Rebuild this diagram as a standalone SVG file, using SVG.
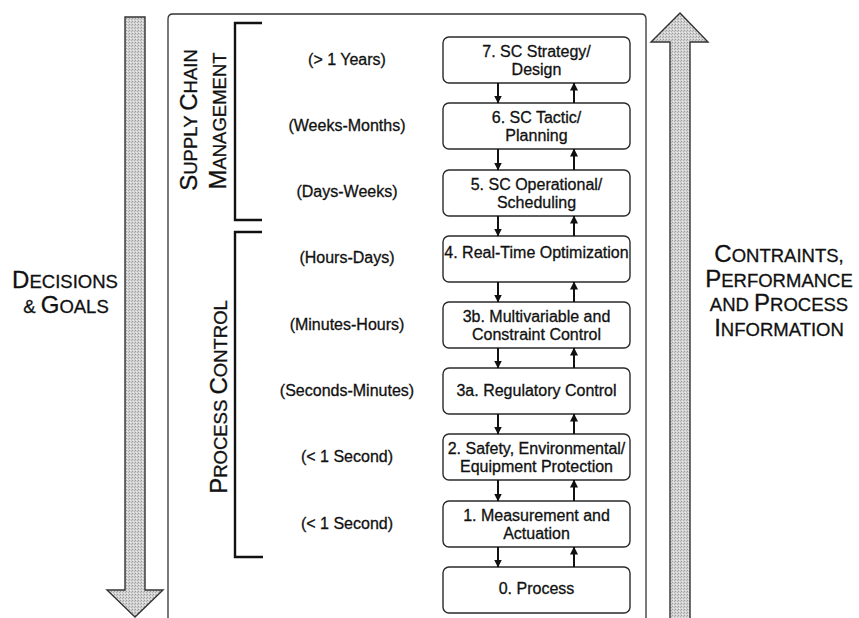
<svg xmlns="http://www.w3.org/2000/svg" width="859" height="618" viewBox="0 0 859 618">
  <style>
    .node rect { fill: #ffffff; stroke: #2a2a2a; stroke-width: 1.4; }
    .node text, .time { font-family: "Liberation Sans", Arial, sans-serif; font-size: 16px; fill: #111; stroke: #111; stroke-width: 0.3; text-anchor: middle; }
    .cap { font-family: "Liberation Sans", Arial, sans-serif; font-size: 24px; fill: #111; stroke: #111; stroke-width: 0.3; text-anchor: middle; }
    .sc { font-size: 18.5px; }
    .bracket { fill: none; stroke: #111; stroke-width: 2.4; }
    .frame { fill: none; stroke: #333; stroke-width: 1.3; }
    .flow { fill: url(#stipple); stroke: #333; stroke-width: 1.4; stroke-linejoin: miter; }
    .link { stroke: #111; stroke-width: 2; fill: none; }
  </style>
  <defs>
    <pattern id="stipple" width="3" height="3" patternUnits="userSpaceOnUse">
      <rect width="3" height="3" fill="#d2d2d2"/>
      <rect x="0" y="0" width="1" height="1" fill="#9a9a9a"/>
      <rect x="2" y="1" width="1" height="1" fill="#b0b0b0"/>
      <rect x="1" y="2" width="1" height="1" fill="#ececec"/>
    </pattern>
    <marker id="head" markerUnits="userSpaceOnUse" markerWidth="8" markerHeight="9" refX="7.5" refY="4" orient="auto">
      <path d="M0,0 L8,4 L0,8 Z" fill="#111"/>
    </marker>
  </defs>

  <!-- broad flow arrows -->
  <path id="decisions-arrow" class="flow" d="M125,17 H145 V590 H163 L135,617 L107,590 H125 Z"/>
  <path id="feedback-arrow" class="flow" d="M670,620 V42 H651 L680,13 L708,42 H690 V620"/>

  <!-- hierarchy frame -->
  <path class="frame" d="M168,618 V19 Q168,14 173,14 H641 Q646,14 646,19 V618"/>

  <!-- brackets -->
  <path class="bracket" d="M262,23 H235 V220 H262"/>
  <path class="bracket" d="M262,232 H235 V557 H263"/>

  <!-- side labels -->
  <text class="cap" transform="translate(197,120) rotate(-90)">S<tspan class="sc">UPPLY </tspan>C<tspan class="sc">HAIN</tspan></text>
  <text class="cap" transform="translate(226,121) rotate(-90)">M<tspan class="sc">ANAGEMENT</tspan></text>
  <text class="cap" transform="translate(227,397) rotate(-90)">P<tspan class="sc">ROCESS </tspan>C<tspan class="sc">ONTROL</tspan></text>

  <g id="label-decisions">
    <text class="cap" x="65" y="288">D<tspan class="sc">ECISIONS</tspan></text>
    <text class="cap" x="66" y="313"><tspan class="sc">&amp; </tspan>G<tspan class="sc">OALS</tspan></text>
  </g>
  <g id="label-information">
    <text class="cap" x="779" y="262">C<tspan class="sc">ONTRAINTS,</tspan></text>
    <text class="cap" x="779" y="287">P<tspan class="sc">ERFORMANCE</tspan></text>
    <text class="cap" x="779" y="311"><tspan class="sc">AND </tspan>P<tspan class="sc">ROCESS</tspan></text>
    <text class="cap" x="779" y="336">I<tspan class="sc">NFORMATION</tspan></text>
  </g>

  <!-- time scales -->
  <g id="time-scales">
    <text class="time" x="347" y="65">(&gt; 1 Years)</text>
    <text class="time" x="347" y="131">(Weeks-Months)</text>
    <text class="time" x="347" y="197">(Days-Weeks)</text>
    <text class="time" x="347" y="263">(Hours-Days)</text>
    <text class="time" x="347" y="330">(Minutes-Hours)</text>
    <text class="time" x="347" y="396">(Seconds-Minutes)</text>
    <text class="time" x="347" y="462">(&lt; 1 Second)</text>
    <text class="time" x="347" y="529">(&lt; 1 Second)</text>
  </g>

  <!-- levels -->
  <g id="level-7" class="node">
    <rect x="443" y="37" width="187" height="46" rx="6"/>
    <text x="536.5" y="56.5">7. SC Strategy/</text>
    <text x="536.5" y="75">Design</text>
  </g>
  <g id="level-6" class="node">
    <rect x="443" y="103" width="187" height="46" rx="6"/>
    <text x="536.5" y="122.5">6. SC Tactic/</text>
    <text x="536.5" y="141">Planning</text>
  </g>
  <g id="level-5" class="node">
    <rect x="443" y="170" width="187" height="46" rx="6"/>
    <text x="536.5" y="189.5">5. SC Operational/</text>
    <text x="536.5" y="208">Scheduling</text>
  </g>
  <g id="level-4" class="node">
    <rect x="443" y="236" width="187" height="46" rx="6"/>
    <text x="536.5" y="258">4. Real-Time Optimization</text>
  </g>
  <g id="level-3b" class="node">
    <rect x="443" y="302" width="187" height="46" rx="6"/>
    <text x="536.5" y="321.5">3b. Multivariable and</text>
    <text x="536.5" y="340">Constraint Control</text>
  </g>
  <g id="level-3a" class="node">
    <rect x="443" y="368" width="187" height="46" rx="6"/>
    <text x="536.5" y="396">3a. Regulatory Control</text>
  </g>
  <g id="level-2" class="node">
    <rect x="443" y="434" width="187" height="46" rx="6"/>
    <text x="536.5" y="453.5">2. Safety, Environmental/</text>
    <text x="536.5" y="472">Equipment Protection</text>
  </g>
  <g id="level-1" class="node">
    <rect x="443" y="501" width="187" height="46" rx="6"/>
    <text x="536.5" y="520.5">1. Measurement and</text>
    <text x="536.5" y="539">Actuation</text>
  </g>
  <g id="level-0" class="node">
    <rect x="443" y="567" width="187" height="46" rx="6"/>
    <text x="536.5" y="593.5">0. Process</text>
  </g>

  <!-- connectors: decisions down, information up -->
  <g id="connectors" class="link" marker-end="url(#head)">
    <line x1="498" y1="83" x2="498" y2="103"/>
    <line x1="574" y1="103" x2="574" y2="83"/>
    <line x1="498" y1="149" x2="498" y2="170"/>
    <line x1="574" y1="170" x2="574" y2="149"/>
    <line x1="498" y1="216" x2="498" y2="236"/>
    <line x1="574" y1="236" x2="574" y2="216"/>
    <line x1="498" y1="282" x2="498" y2="302"/>
    <line x1="574" y1="302" x2="574" y2="282"/>
    <line x1="498" y1="348" x2="498" y2="368"/>
    <line x1="574" y1="368" x2="574" y2="348"/>
    <line x1="498" y1="414" x2="498" y2="434"/>
    <line x1="574" y1="434" x2="574" y2="414"/>
    <line x1="498" y1="480" x2="498" y2="501"/>
    <line x1="574" y1="501" x2="574" y2="480"/>
    <line x1="498" y1="547" x2="498" y2="567"/>
    <line x1="574" y1="567" x2="574" y2="547"/>
  </g>
</svg>
